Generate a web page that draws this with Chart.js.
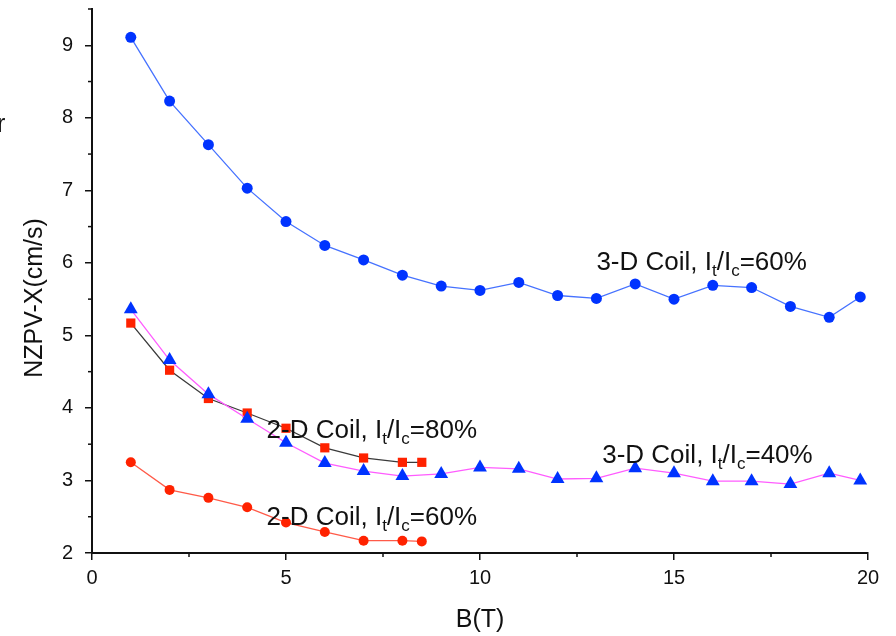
<!DOCTYPE html>
<html>
<head>
<meta charset="utf-8">
<script src="https://cdn.jsdelivr.net/npm/chart.js@4"></script>
<style>
  html, body { margin: 0; padding: 0; background: #fff; }
  #wrap { width: 896px; height: 636px; position: relative; }
</style>
</head>
<body>
<div id="wrap"><canvas id="chart" width="896" height="636"></canvas></div>
<script>
// field B (T)
const xTicks = [0, 5, 10, 15, 20];
const yTicks = [2, 3, 4, 5, 6, 7, 8, 9];

const b3d = [1, 2, 3, 4, 5, 6, 7, 8, 9, 10, 11, 12, 13, 14, 15, 16, 17, 18, 19, 19.8];
const coil3d60 = [9.11, 8.23, 7.63, 7.03, 6.57, 6.24, 6.04, 5.83, 5.68, 5.62, 5.73, 5.55, 5.51, 5.71, 5.50, 5.69, 5.66, 5.40, 5.25, 5.53];
const coil3d40 = [5.36, 4.66, 4.19, 3.85, 3.52, 3.24, 3.13, 3.06, 3.09, 3.18, 3.16, 3.02, 3.03, 3.17, 3.10, 2.99, 2.99, 2.95, 3.10, 3.00];

const b2d = [1, 2, 3, 4, 5, 6, 7, 8, 8.5];
const coil2d80 = [5.17, 4.52, 4.13, 3.93, 3.72, 3.45, 3.31, 3.25, 3.25];
const coil2d60 = [3.25, 2.87, 2.76, 2.63, 2.42, 2.29, 2.17, 2.17, 2.16];

// label text, anchor in data units (left, baseline)
const labels = [
  { pre: "3-D Coil, I", x: 13.0, y: 5.90, pct: "=60%" },
  { pre: "3-D Coil, I", x: 13.15, y: 3.24, pct: "=40%" },
  { pre: "2-D Coil, I", x: 4.5, y: 3.58, pct: "=80%" },
  { pre: "2-D Coil, I", x: 4.5, y: 2.39, pct: "=60%" }
];

const pts = (xs, ys) => xs.map((x, i) => ({ x: x, y: ys[i] }));

const FONT = "'Liberation Sans', Arial, sans-serif";

const textPlugin = {
  id: "texts",
  afterDraw(chart) {
    const ctx = chart.ctx;
    const xs = chart.scales.x, ys = chart.scales.y;
    ctx.save();
    ctx.fillStyle = "#111";
    ctx.strokeStyle = "#111";
    ctx.lineWidth = 1.5;

    // minor ticks
    for (let v = 2.5; v < 20; v += 5) {
      const px = xs.getPixelForValue(v);
      ctx.beginPath(); ctx.moveTo(px, xs.top); ctx.lineTo(px, xs.top + 4); ctx.stroke();
    }
    for (let v = 2.5; v < 9.6; v += 1) {
      const py = ys.getPixelForValue(v);
      ctx.beginPath(); ctx.moveTo(ys.right, py); ctx.lineTo(ys.right - 4, py); ctx.stroke();
    }

    // axis titles
    ctx.font = "25px " + FONT;
    ctx.textAlign = "center";
    ctx.textBaseline = "alphabetic";
    ctx.fillText("B(T)", (xs.left + xs.right) / 2, 627);
    ctx.save();
    ctx.translate(42, 298);
    ctx.rotate(-Math.PI / 2);
    ctx.fillText("NZPV-X(cm/s)", 0, 0);
    ctx.restore();

    // cut-off letter at the left edge
    ctx.textAlign = "left";
    ctx.fillText("r", -3, 132);

    // series labels with subscripts
    labels.forEach(l => {
      let px = xs.getPixelForValue(l.x);
      const py = ys.getPixelForValue(l.y);
      ctx.font = "26px " + FONT;
      ctx.fillText(l.pre, px, py);
      px += ctx.measureText(l.pre).width;
      ctx.font = "17px " + FONT;
      ctx.fillText("t", px, py + 6);
      px += ctx.measureText("t").width;
      ctx.font = "26px " + FONT;
      ctx.fillText("/I", px, py);
      px += ctx.measureText("/I").width;
      ctx.font = "17px " + FONT;
      ctx.fillText("c", px, py + 6);
      px += ctx.measureText("c").width;
      ctx.font = "26px " + FONT;
      ctx.fillText(l.pct, px, py);
    });
    ctx.restore();
  }
};

new Chart(document.getElementById("chart"), {
  type: "line",
  data: {
    datasets: [
      {
        label: "3-D Coil 60%",
        data: pts(b3d, coil3d60),
        borderColor: "#4672ff",
        borderWidth: 1.3,
        pointStyle: "circle",
        pointRadius: 5.5,
        pointBackgroundColor: "#0033ff",
        pointBorderColor: "#0033ff",
        pointBorderWidth: 0,
        order: 1
      },
      {
        label: "3-D Coil 40%",
        data: pts(b3d, coil3d40),
        borderColor: "#ff5cff",
        borderWidth: 1.3,
        pointStyle: "triangle",
        pointRadius: 8,
        pointBackgroundColor: "#0033ff",
        pointBorderColor: "#0033ff",
        pointBorderWidth: 0,
        order: 2
      },
      {
        label: "2-D Coil 80%",
        data: pts(b2d, coil2d80),
        borderColor: "#3a3a3a",
        borderWidth: 1.3,
        pointStyle: "rect",
        pointRadius: 6.5,
        pointBackgroundColor: "#ff2200",
        pointBorderColor: "#ff2200",
        pointBorderWidth: 0,
        order: 3
      },
      {
        label: "2-D Coil 60%",
        data: pts(b2d, coil2d60),
        borderColor: "#ff5a48",
        borderWidth: 1.3,
        pointStyle: "circle",
        pointRadius: 5,
        pointBackgroundColor: "#ff2200",
        pointBorderColor: "#ff2200",
        pointBorderWidth: 0,
        order: 4
      }
    ]
  },
  options: {
    responsive: false,
    animation: false,
    clip: false,
    layout: { padding: { left: 0, top: 9, right: 28, bottom: 0 } },
    plugins: { legend: { display: false }, tooltip: { enabled: false } },
    scales: {
      x: {
        type: "linear",
        min: 0,
        max: 20,
        afterBuildTicks: s => { s.ticks = xTicks.map(v => ({ value: v })); },
        afterFit: s => { s.height = 83; s.paddingLeft = 0; s.paddingRight = 0; },
        grid: { drawOnChartArea: false, tickLength: 7, color: "#111", lineWidth: 1.5 },
        border: { color: "#111", width: 2 },
        ticks: { color: "#111", font: { size: 20, family: FONT }, padding: 6, maxRotation: 0 }
      },
      y: {
        type: "linear",
        min: 2,
        max: 9.5,
        afterBuildTicks: s => { s.ticks = yTicks.map(v => ({ value: v })); },
        afterFit: s => { s.width = 92; s.paddingTop = 0; s.paddingBottom = 0; },
        grid: { drawOnChartArea: false, tickLength: 7, color: "#111", lineWidth: 1.5 },
        border: { color: "#111", width: 2 },
        ticks: { color: "#111", font: { size: 20, family: FONT }, padding: 12 }
      }
    }
  },
  plugins: [textPlugin]
});
</script>
</body>
</html>
